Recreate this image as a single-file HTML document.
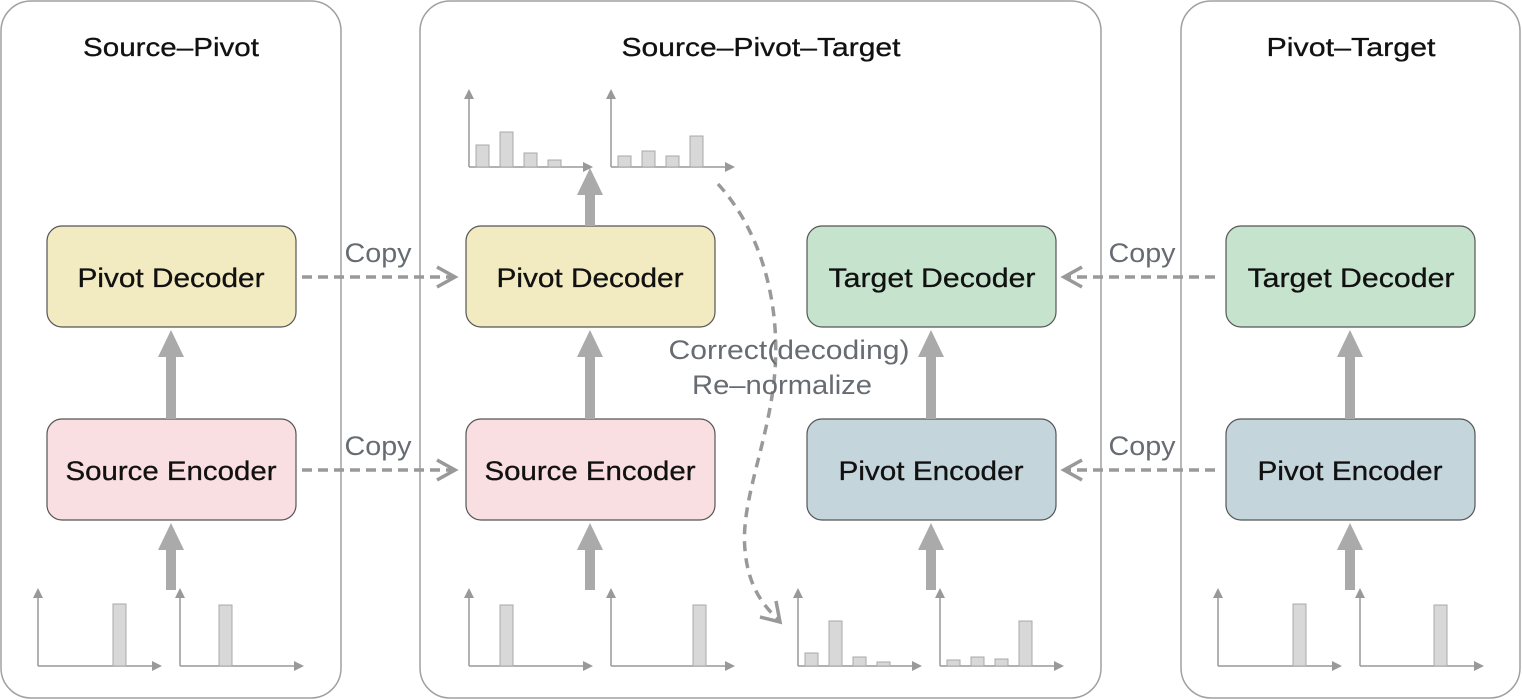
<!DOCTYPE html>
<html><head><meta charset="utf-8"><style>html,body{margin:0;padding:0;background:#fff}svg{display:block}</style></head>
<body>
<svg width="1522" height="700" viewBox="0 0 1522 700" xmlns="http://www.w3.org/2000/svg" font-family="'Liberation Sans', sans-serif">
<defs>
<g id="ax"><line x1="0" y1="0" x2="0" y2="-70" stroke="#999" stroke-width="1.5"/><polygon points="-5,-68 5,-68 0,-78" fill="#999"/><line x1="0" y1="0" x2="116" y2="0" stroke="#999" stroke-width="1.5"/><polygon points="114,-5 114,5 124,0" fill="#999"/></g>
</defs>
<g fill="none" stroke="#a0a0a0" stroke-width="1.5">
<rect x="1" y="1" width="340" height="697" rx="30"/>
<rect x="420" y="1" width="681" height="697" rx="30"/>
<rect x="1181" y="1" width="339" height="697" rx="30"/>
</g>
<g font-size="26" fill="#111" stroke="#111" stroke-width="0.3" text-anchor="middle" lengthAdjust="spacingAndGlyphs">
<text x="171" y="56" textLength="176" lengthAdjust="spacingAndGlyphs">Source–Pivot</text>
<text x="761" y="56" textLength="279" lengthAdjust="spacingAndGlyphs">Source–Pivot–Target</text>
<text x="1351" y="56" textLength="169" lengthAdjust="spacingAndGlyphs">Pivot–Target</text>
</g>
<!-- boxes -->
<g stroke="#555" stroke-width="1.2">
<rect x="47" y="226" width="249" height="101" rx="15" fill="#f2eac0"/>
<rect x="47" y="419" width="249" height="101" rx="15" fill="#f9dfe2"/>
<rect x="466" y="226" width="249" height="101" rx="15" fill="#f2eac0"/>
<rect x="466" y="419" width="249" height="101" rx="15" fill="#f9dfe2"/>
<rect x="807" y="226" width="249" height="101" rx="15" fill="#c6e4cd"/>
<rect x="807" y="419" width="249" height="101" rx="15" fill="#c5d5dc"/>
<rect x="1226" y="226" width="249" height="101" rx="15" fill="#c6e4cd"/>
<rect x="1226" y="419" width="249" height="101" rx="15" fill="#c5d5dc"/>
</g>
<g font-size="27" fill="#111" stroke="#111" stroke-width="0.3" text-anchor="middle">
<text x="171" y="287" textLength="187" lengthAdjust="spacingAndGlyphs">Pivot Decoder</text>
<text x="171" y="480" textLength="211" lengthAdjust="spacingAndGlyphs">Source Encoder</text>
<text x="590" y="287" textLength="187" lengthAdjust="spacingAndGlyphs">Pivot Decoder</text>
<text x="590" y="480" textLength="211" lengthAdjust="spacingAndGlyphs">Source Encoder</text>
<text x="932" y="287" textLength="207" lengthAdjust="spacingAndGlyphs">Target Decoder</text>
<text x="931" y="480" textLength="185" lengthAdjust="spacingAndGlyphs">Pivot Encoder</text>
<text x="1351" y="287" textLength="207" lengthAdjust="spacingAndGlyphs">Target Decoder</text>
<text x="1350" y="480" textLength="185" lengthAdjust="spacingAndGlyphs">Pivot Encoder</text>
</g>
<!-- thick arrows -->
<g fill="#aaa">
<path d="M171,330 L184,357 L176,357 L176,419 L166,419 L166,357 L158,357 Z"/>
<path d="M171,523 L184,550 L176,550 L176,590 L166,590 L166,550 L158,550 Z"/>
<path d="M590,330 L603,357 L595,357 L595,419 L585,419 L585,357 L577,357 Z"/>
<path d="M590,523 L603,550 L595,550 L595,590 L585,590 L585,550 L577,550 Z"/>
<path d="M590,168 L603,195 L595,195 L595,226 L585,226 L585,195 L577,195 Z"/>
<path d="M931,330 L944,357 L936,357 L936,419 L926,419 L926,357 L918,357 Z"/>
<path d="M931,523 L944,550 L936,550 L936,590 L926,590 L926,550 L918,550 Z"/>
<path d="M1350,330 L1363,357 L1355,357 L1355,419 L1345,419 L1345,357 L1337,357 Z"/>
<path d="M1350,523 L1363,550 L1355,550 L1355,590 L1345,590 L1345,550 L1337,550 Z"/>
</g>
<!-- copy arrows -->
<g stroke="#999" stroke-width="3.5" fill="none">
<line x1="302" y1="277" x2="452" y2="277" stroke-dasharray="10 6"/>
<polyline points="437,267 455,277 437,287"/>
<line x1="302" y1="470" x2="452" y2="470" stroke-dasharray="10 6"/>
<polyline points="437,460 455,470 437,480"/>
<line x1="1215" y1="277" x2="1067" y2="277" stroke-dasharray="10 6"/>
<polyline points="1082,267 1064,277 1082,287"/>
<line x1="1215" y1="470" x2="1067" y2="470" stroke-dasharray="10 6"/>
<polyline points="1082,460 1064,470 1082,480"/>
<path d="M718,184 C760,230 780,300 775,370 C770,440 740,500 745,550 C748,585 762,605 779,620" stroke-dasharray="10 7"/>
<polyline points="760,617 780,622 776,601"/>
</g>
<g font-size="27" fill="#666c72" text-anchor="middle">
<text x="378" y="262" textLength="67" lengthAdjust="spacingAndGlyphs">Copy</text>
<text x="378" y="455" textLength="67" lengthAdjust="spacingAndGlyphs">Copy</text>
<text x="1142" y="262" textLength="67" lengthAdjust="spacingAndGlyphs">Copy</text>
<text x="1142" y="455" textLength="67" lengthAdjust="spacingAndGlyphs">Copy</text>
<text x="789" y="359" textLength="241" lengthAdjust="spacingAndGlyphs">Correct(decoding)</text>
<text x="782" y="394" textLength="180" lengthAdjust="spacingAndGlyphs">Re–normalize</text>
</g>
<!-- charts -->
<use href="#ax" x="38" y="666"/><use href="#ax" x="180" y="666"/>
<use href="#ax" x="469" y="167"/><use href="#ax" x="611" y="167"/>
<use href="#ax" x="469" y="666"/><use href="#ax" x="611" y="666"/>
<use href="#ax" x="798" y="666"/><use href="#ax" x="940" y="666"/>
<use href="#ax" x="1218" y="666"/><use href="#ax" x="1360" y="666"/>
<g fill="#d8d8d8" stroke="#a8a8a8" stroke-width="1">
<rect x="113" y="604" width="13" height="62"/>
<rect x="219" y="605" width="13" height="61"/>
<rect x="476" y="145" width="13" height="22"/>
<rect x="500" y="132" width="13" height="35"/>
<rect x="524" y="153" width="13" height="14"/>
<rect x="548" y="160" width="13" height="7"/>
<rect x="618" y="156" width="13" height="11"/>
<rect x="642" y="151" width="13" height="16"/>
<rect x="666" y="156" width="13" height="11"/>
<rect x="690" y="136" width="13" height="31"/>
<rect x="500" y="605" width="13" height="61"/>
<rect x="693" y="605" width="13" height="61"/>
<rect x="805" y="653" width="13" height="13"/>
<rect x="829" y="621" width="13" height="45"/>
<rect x="853" y="657" width="13" height="9"/>
<rect x="877" y="662" width="13" height="4"/>
<rect x="947" y="660" width="13" height="6"/>
<rect x="971" y="657" width="13" height="9"/>
<rect x="995" y="659" width="13" height="7"/>
<rect x="1019" y="621" width="13" height="45"/>
<rect x="1293" y="604" width="13" height="62"/>
<rect x="1434" y="605" width="13" height="61"/>
</g>
</svg>
</body></html>
